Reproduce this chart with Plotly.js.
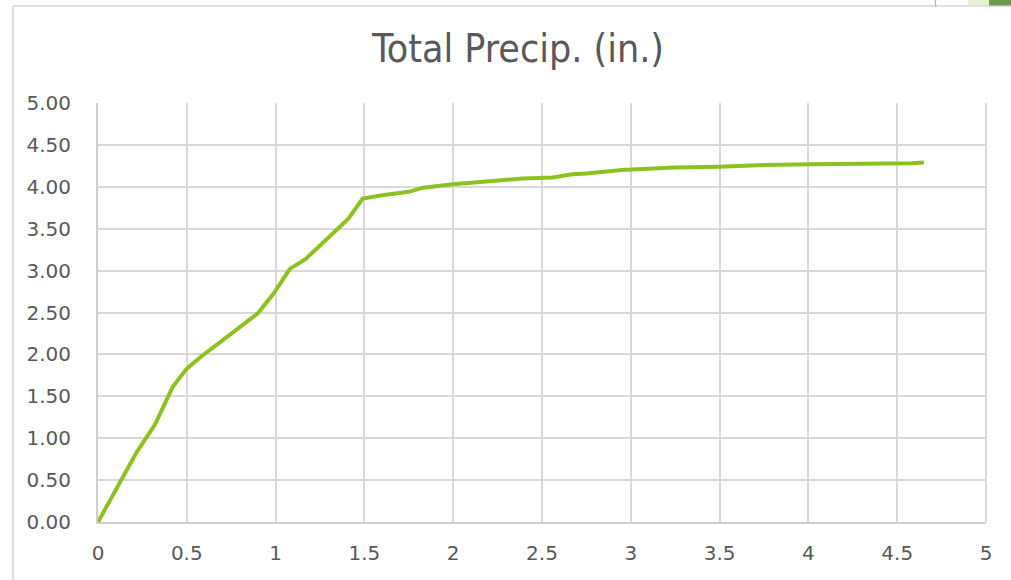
<!DOCTYPE html>
<html>
<head>
<meta charset="utf-8">
<script src="https://cdn.plot.ly/plotly-3.0.1.min.js"></script>
<style>html,body{margin:0;padding:0;background:#fff;}#chart{width:1011px;height:580px;}</style>
</head>
<body>
<div id="chart"></div>
<script>
// Time (hours) and cumulative precipitation (in.)
const hours = [0, 0.22, 0.32, 0.42, 0.50, 0.59, 0.69, 0.90, 0.99, 1.08, 1.17, 1.41, 1.49, 1.60, 1.75, 1.83, 2.00, 2.20, 2.39, 2.56, 2.67, 2.75, 2.84, 2.95, 3.04, 3.14, 3.25, 3.50, 3.60, 3.75, 4.00, 4.25, 4.33, 4.58, 4.65];
const precip = [0, 0.84, 1.16, 1.61, 1.83, 1.99, 2.15, 2.49, 2.73, 3.02, 3.14, 3.62, 3.86, 3.90, 3.94, 3.99, 4.03, 4.07, 4.10, 4.11, 4.15, 4.16, 4.18, 4.20, 4.21, 4.22, 4.23, 4.24, 4.25, 4.26, 4.27, 4.27, 4.28, 4.28, 4.29];
const xTicks = [0, 0.5, 1, 1.5, 2, 2.5, 3, 3.5, 4, 4.5, 5];
const xTickText = ['0', '0.5', '1', '1.5', '2', '2.5', '3', '3.5', '4', '4.5', '5'];
const yTicks = [0, 0.5, 1, 1.5, 2, 2.5, 3, 3.5, 4, 4.5, 5];
const yTickText = ['0.00', '0.50', '1.00', '1.50', '2.00', '2.50', '3.00', '3.50', '4.00', '4.50', '5.00'];
const chartTitle = 'Total Precip. (in.)';

const tickFam = '"DejaVu Sans", sans-serif';
const titleFam = '"DejaVu Sans Condensed", "DejaVu Sans", sans-serif';
const W = 1011, H = 580, L = 98, R = 25, T = 103, B = 58;
const pw = W - L - R, ph = H - T - B;
const px = v => (v - L) / pw;
const py = v => (H - B - v) / ph;

const trace = {
  x: hours, y: precip, type: 'scatter', mode: 'lines',
  line: {color: '#8cc21f', width: 4},
  hoverinfo: 'skip'
};

const layout = {
  width: W, height: H,
  margin: {l: L, r: R, t: T, b: B, pad: 0},
  paper_bgcolor: '#ffffff', plot_bgcolor: '#ffffff',
  showlegend: false,
  title: {text: chartTitle, x: 518 / W, xanchor: 'center', y: 1 - 48 / H, yanchor: 'middle',
          font: {family: titleFam, size: 39, color: '#595959'}},
  xaxis: {
    range: [0, 5], tickvals: xTicks, ticktext: xTickText,
    showgrid: true, gridcolor: '#d9d9d9', gridwidth: 2,
    zeroline: false, showline: true, linecolor: '#cfcfcf', linewidth: 2,
    ticks: '', ticklabelstandoff: 12,
    tickfont: {family: tickFam, size: 20, color: '#595959'},
    fixedrange: true
  },
  yaxis: {
    range: [0, 5], tickvals: yTicks, ticktext: yTickText,
    showgrid: true, gridcolor: '#d9d9d9', gridwidth: 2,
    zeroline: false, showline: true, linecolor: '#cfcfcf', linewidth: 2,
    ticks: '', ticklabelstandoff: 21,
    tickfont: {family: tickFam, size: 20, color: '#595959'},
    fixedrange: true
  },
  shapes: [
    {type: 'line', xref: 'paper', yref: 'paper', x0: 1, x1: 1, y0: 0, y1: 1, line: {color: '#d9d9d9', width: 2}},
    {type: 'line', xref: 'paper', yref: 'paper', x0: px(13), x1: px(1011), y0: py(6), y1: py(6), line: {color: '#d4d4d4', width: 1.5}},
    {type: 'line', xref: 'paper', yref: 'paper', x0: px(13), x1: px(13), y0: py(6), y1: py(580), line: {color: '#d4d4d4', width: 1.5}},
    {type: 'line', xref: 'paper', yref: 'paper', x0: px(935), x1: px(936), y0: py(0), y1: py(6), line: {color: '#a6a6a6', width: 1}},
    {type: 'rect', xref: 'paper', yref: 'paper', x0: px(968), x1: px(989), y0: py(0), y1: py(5.5), line: {width: 0}, fillcolor: '#e8f0d4'},
    {type: 'rect', xref: 'paper', yref: 'paper', x0: px(989), x1: px(1011), y0: py(0), y1: py(5.5), line: {width: 0}, fillcolor: '#6b9a4a'}
  ]
};

Plotly.newPlot('chart', [trace], layout, {displayModeBar: false, staticPlot: true});
</script>
</body>
</html>
